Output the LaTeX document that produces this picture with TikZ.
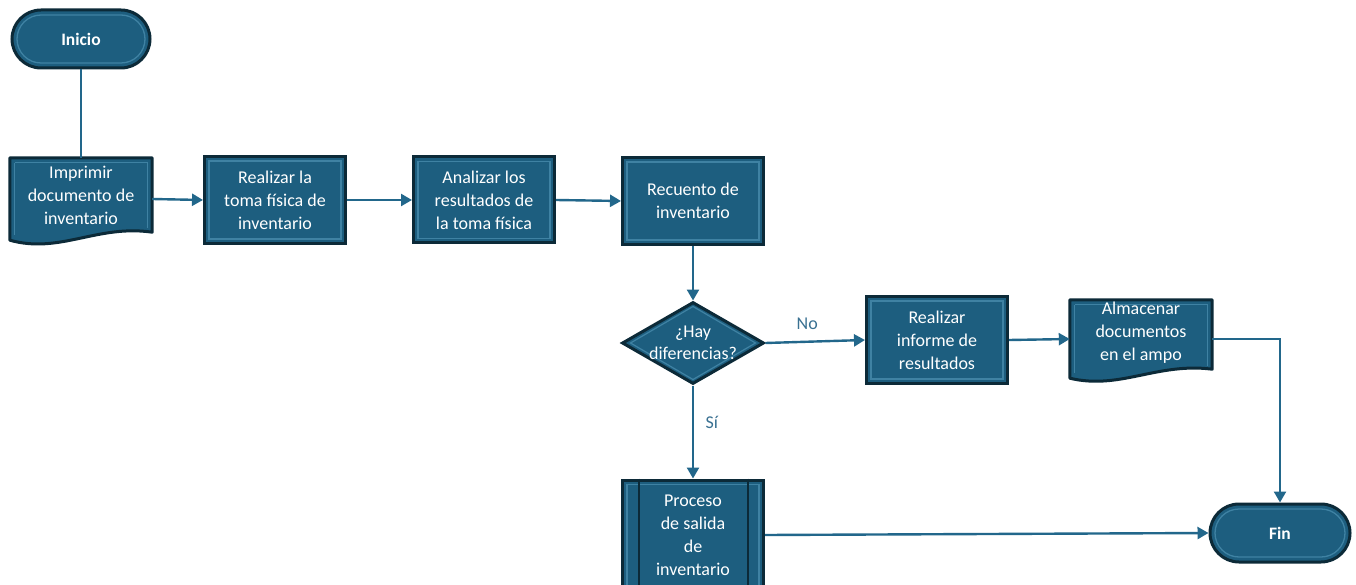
\documentclass[tikz,border=0pt]{standalone}
\usepackage{fontspec}
\setmainfont{Carlito}
\usetikzlibrary{shapes.geometric,shapes.misc,arrows.meta,calc}
\definecolor{boxfill}{HTML}{1D5E7F}
\definecolor{boxdark}{HTML}{0C2A38}
\definecolor{boxlight}{HTML}{3F82A3}
\definecolor{conn}{HTML}{22678B}
\definecolor{lbl}{HTML}{3A7192}
\tikzset{
  innerline/.style={path picture={\draw[boxlight,line width=1.3pt]
      ([xshift=4.5pt,yshift=-4.5pt]path picture bounding box.north west) rectangle
      ([xshift=-4.5pt,yshift=4.5pt]path picture bounding box.south east);}},
  procbox/.style={rectangle, fill=boxfill, draw=boxdark, line width=3pt,
      minimum width=141pt, minimum height=87pt, inner sep=0pt, text=white,
      font=\fontsize{18}{23}\selectfont, align=center, innerline},
  termbox/.style={rounded rectangle, fill=boxfill, draw=boxdark, line width=3pt,
      minimum width=138pt, minimum height=58pt, inner sep=0pt, text=white,
      font=\fontsize{17.5}{20}\selectfont\bfseries,
      path picture={\draw[boxlight,line width=1.3pt,rounded corners=24pt]
      ([xshift=5pt,yshift=-5pt]path picture bounding box.north west) rectangle
      ([xshift=-5pt,yshift=5pt]path picture bounding box.south east);}},
  docbox/.style={rectangle, draw=none, minimum width=142pt, inner sep=0pt,
      text=white, font=\fontsize{18}{23}\selectfont, align=center},
  docshape/.style={fill=boxfill, draw=boxdark, line width=3pt, line join=round},
  decbox/.style={diamond, fill=boxfill, draw=boxdark, line width=3pt,
      minimum width=142pt, minimum height=82pt, inner sep=0pt},
  conline/.style={draw=conn, line width=2.4pt},
  conarrow/.style={conline, -{Triangle[length=11pt,width=12pt]}},
  condlabel/.style={text=lbl, font=\fontsize{18}{20}\selectfont},
}
\begin{document}
\begin{tikzpicture}[x=1pt,y=-1pt]
\useasboundingbox[fill=white] (0,0) rectangle (1356,585);

% Terminals
\node[termbox] (ini) at (81,39) {Inicio};
\node[termbox, minimum width=140pt] (fin) at (1280,533) {Fin};

% Document shapes (bounds nodes)
\node[docbox, minimum height=82pt] (imp) at (81,199) {};
\path[docshape] (imp.north west) -- (imp.north east) -- ($(imp.south east)+(0,-8)$)
   .. controls ($(imp.south east)+(-55,-16)$) and ($(imp.south west)+(50,14)$) .. (imp.south west) -- cycle;
\draw[boxlight,line width=1.2pt] ($(imp.north west)+(5,5)$) -- ($(imp.north east)+(-5,5)$) -- ($(imp.south east)+(-5,-12)$);
\draw[boxlight,line width=1.2pt] ($(imp.north west)+(5,5)$) -- ($(imp.south west)+(5,-5)$);
\node[text=white, font=\fontsize{18}{23}\selectfont, align=center] at (81,195) {Imprimir\\documento de\\inventario};

\node[docbox, minimum height=78pt] (alm) at (1141,339) {};
\path[docshape] (alm.north west) -- (alm.north east) -- ($(alm.south east)+(0,-9)$)
   .. controls ($(alm.south east)+(-55,-16)$) and ($(alm.south west)+(50,12)$) .. (alm.south west) -- cycle;
\draw[boxlight,line width=1.2pt] ($(alm.north west)+(5,5)$) -- ($(alm.north east)+(-5,5)$) -- ($(alm.south east)+(-5,-12)$);
\draw[boxlight,line width=1.2pt] ($(alm.north west)+(5,5)$) -- ($(alm.south west)+(5,-5)$);
\node[text=white, font=\fontsize{18}{23}\selectfont, align=center] at (1141,333) {Almacenar\\documentos\\en el ampo};

% Process boxes
\node[procbox] (rea) at (275,200) {Realizar la\\toma física de\\inventario};
\node[procbox, minimum height=86pt] (ana) at (484,200) {Analizar los\\resultados de\\la toma física};
\node[procbox] (rec) at (693,201) {Recuento de\\inventario};
\node[procbox] (inf) at (937,340) {Realizar\\informe de\\resultados};

% Decision
\node[decbox] (dif) at (693,343) {};
\draw[boxlight,line width=1.2pt] ($(dif.west)+(10,0)$) -- ($(dif.north)+(0,6)$) -- ($(dif.east)+(-10,0)$) -- ($(dif.south)+(0,-6)$) -- cycle;
\node[text=white, font=\fontsize{18}{22}\selectfont, align=center] at (dif.center) {¿Hay\\diferencias?};

% Predefined process
\node[procbox, minimum height=110pt] (pro) at (693,535) {Proceso\\de salida\\de\\inventario};
\draw[boxdark,line width=2pt] ($(pro.north west)+(18,0)$) -- ($(pro.south west)+(18,0)$);
\draw[boxdark,line width=2pt] ($(pro.north east)+(-17,0)$) -- ($(pro.south east)+(-17,0)$);

% Connectors
\draw[conline] (ini.south) -- (imp.north);
\draw[conarrow] (imp.east) -- (rea.west);
\draw[conarrow] (rea.east) -- (ana.west);
\draw[conarrow] (ana.east) -- (rec.west);
\draw[conarrow] (rec.south) -- (dif.north);
\draw[conarrow] (dif.east) -- node[condlabel, pos=0.42, above=8pt] {No} (inf.west);
\draw[conarrow] (dif.south) -- node[condlabel, pos=0.4, right=8pt] {Sí} (pro.north);
\draw[conarrow] (inf.east) -- (alm.west);
\draw[conarrow] (alm.east) -| (fin.north);
\draw[conarrow] (pro.east) -- (fin.west);
\end{tikzpicture}
\end{document}
